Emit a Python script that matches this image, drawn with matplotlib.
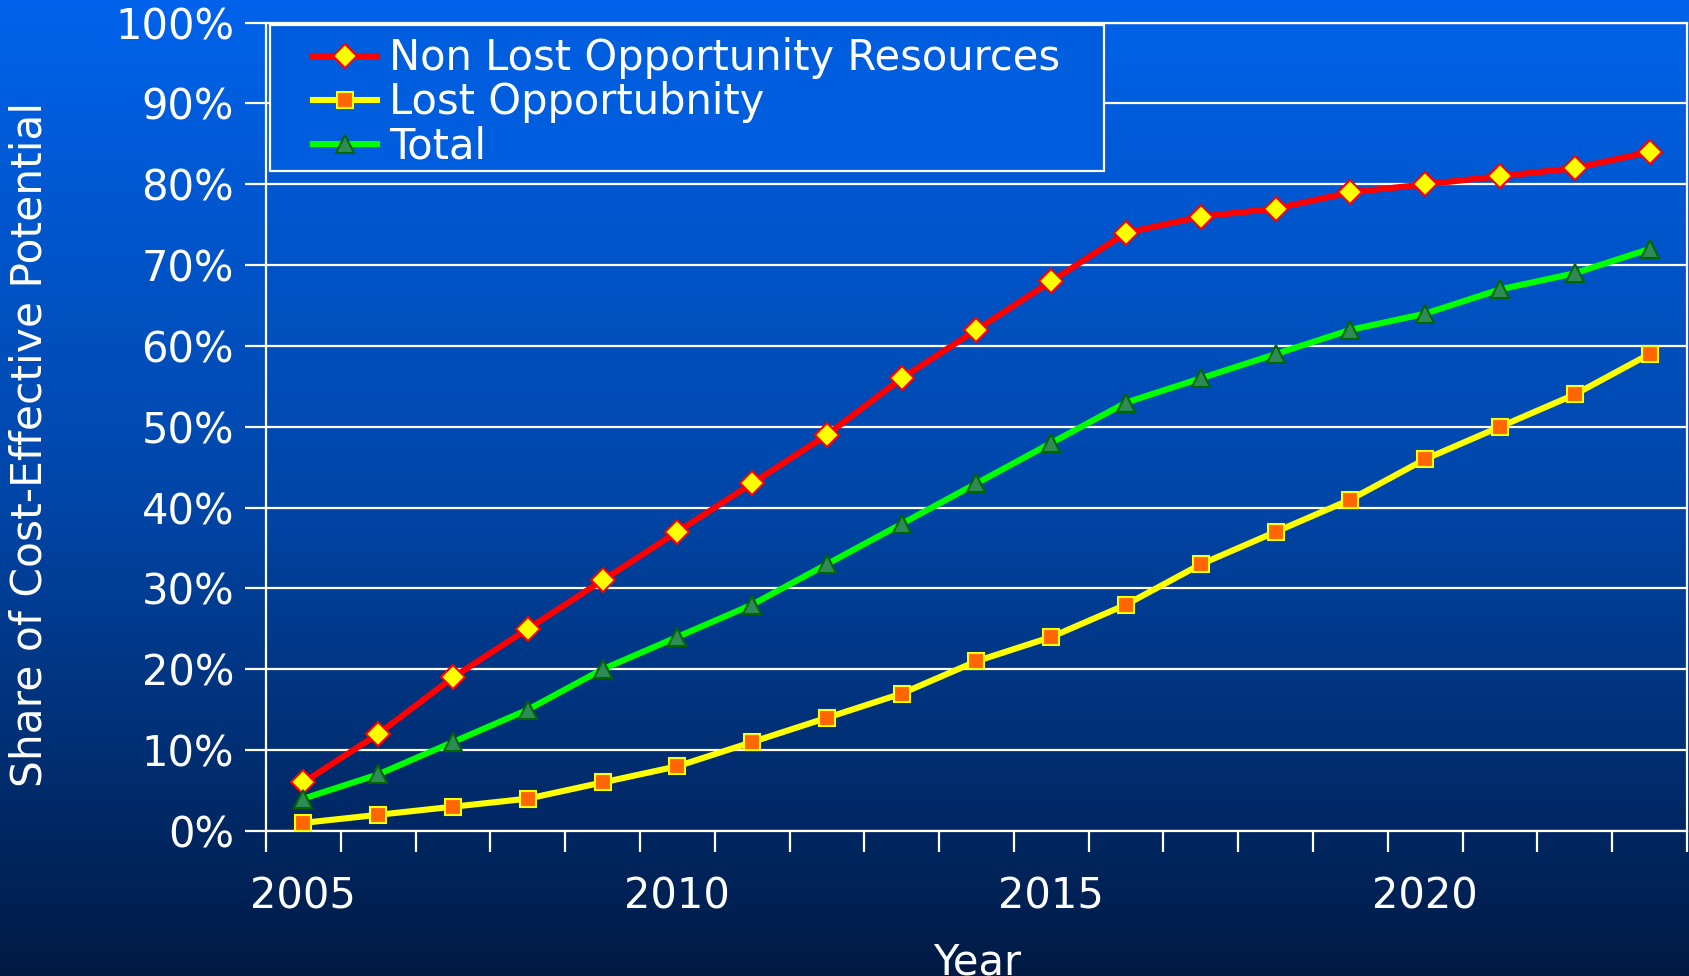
import numpy as np
import matplotlib
matplotlib.use('Agg')
from matplotlib import pyplot as plt
from matplotlib.patches import Rectangle

years = list(range(2005, 2024))
non_lost = [6, 12, 19, 25, 31, 37, 43, 49, 56, 62, 68, 74, 76, 77, 79, 80, 81, 82, 84]
lost_opp = [1, 2, 3, 4, 6, 8, 11, 14, 17, 21, 24, 28, 33, 37, 41, 46, 50, 54, 59]
total = [4, 7, 11, 15, 20, 24, 28, 33, 38, 43, 48, 53, 56, 59, 62, 64, 67, 69, 72]
year_labels = ['2005', '2010', '2015', '2020']

plt.rcParams['font.family'] = ['DejaVu Sans']
FS = 30

fig = plt.figure(figsize=(16.9, 9.76), dpi=100)

# background gradient (top bright blue -> dark navy)
bg = fig.add_axes([0, 0, 1, 1], zorder=-10)
stops_y = [0.0, 0.51, 1.0]
stops_c = np.array([[0, 99, 235], [0, 70, 168], [0, 26, 68]]) / 255.0
yy = np.linspace(0, 1, 400)
grad = np.stack([np.interp(yy, stops_y, stops_c[:, k]) for k in range(3)], axis=1)
bg.imshow(grad[:, None, :], aspect='auto', extent=[0, 1, 1, 0])
bg.axis('off')

ax = fig.add_axes([0.1574, 0.1486, 0.8408, 0.8282])
ax.set_facecolor('none')

x = np.arange(len(years))
ax.plot(x, non_lost, color='#ff0000', lw=4.4, marker='D', ms=12,
        mfc='#ffff00', mec='#ff0000', mew=1.5, label='Non Lost Opportunity Resources', zorder=5)
ax.plot(x, lost_opp, color='#ffff00', lw=4.4, marker='s', ms=11,
        mfc='#ff6600', mec='#ffff00', mew=1.5, label='Lost Opportubnity', zorder=5)
ax.plot(x, total, color='#00ff00', lw=4.4, marker='^', ms=13,
        mfc='#2e8b57', mec='#006600', mew=1.5, label='Total', zorder=5)

ax.set_xlim(-0.5, len(years) - 0.5)
ax.set_ylim(0, 100)

ax.set_yticks(np.arange(0, 101, 10))
ax.set_yticklabels([f'{v}%' for v in range(0, 101, 10)])
ax.yaxis.grid(True, color='white', lw=1.6)
ax.set_axisbelow(True)

ax.set_xticks(np.arange(-0.5, len(years)))
ax.set_xticklabels([])
ax.set_xticks([years.index(int(y)) for y in year_labels], minor=True)
ax.set_xticklabels(year_labels, minor=True)

ax.tick_params(axis='y', colors='white', labelsize=FS, length=15, width=1.6, pad=8)
ax.tick_params(axis='x', which='major', colors='white', length=15, width=1.6)
ax.tick_params(axis='x', which='minor', colors='white', labelsize=FS, length=0, pad=32)

for s in ax.spines.values():
    s.set_color('white')
    s.set_linewidth(1.6)

fig.text(0.0172, 0.545, 'Share of Cost-Effective Potential', rotation=90,
         color='white', fontsize=FS + 0.5, ha='center', va='center')
fig.text(0.578, 0.002, 'Year', color='white', fontsize=FS, ha='center', va='baseline')

# legend box drawn by hand so the padding can differ per side
box = Rectangle((0.0025, 0.816), 0.587, 0.1814, transform=ax.transAxes,
                facecolor='#005dde', edgecolor='white', lw=1.6, zorder=8)
ax.add_patch(box)
leg = ax.legend(loc='center left', bbox_to_anchor=(0.0328, 0.9014), borderaxespad=0,
                fontsize=FS, frameon=False, handlelength=1.55,
                handletextpad=0.28, labelspacing=0.05, borderpad=0)
leg.set_zorder(9)
for t in leg.get_texts():
    t.set_color('white')

fig.savefig('out.png', dpi=100)
